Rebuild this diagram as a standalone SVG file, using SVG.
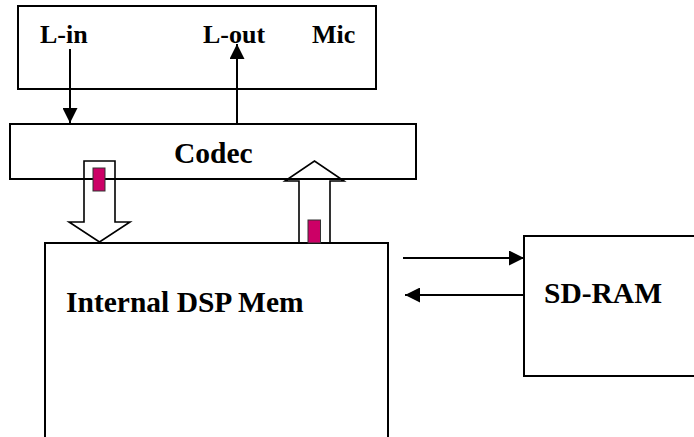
<svg xmlns="http://www.w3.org/2000/svg" width="694" height="437" viewBox="0 0 694 437">
  <defs>
    <style>
      .box { fill: none; stroke: #000; stroke-width: 2; }
      .lbl { font-family: "Liberation Serif", "Times New Roman", serif; font-weight: bold; fill: #000; }
      .big { font-size: 29.5px; }
      .small { font-size: 26px; }
      .conn { stroke: #000; stroke-width: 2; fill: none; }
      .block { fill: none; stroke: #000; stroke-width: 1.6; stroke-linejoin: miter; }
      .tag { fill: #CC0066; stroke: #333; stroke-width: 1; }
    </style>
    <marker id="ahl" viewBox="0 0 16 16" refX="16" refY="8" markerWidth="15" markerHeight="15" markerUnits="userSpaceOnUse" orient="auto">
      <path d="M0,0 L16,8 L0,16 z" fill="#000"/>
    </marker>
  </defs>

  <g id="io">
    <rect class="box" x="18" y="6" width="358" height="83"/>
    <text class="lbl small" x="40" y="43">L-in</text>
    <text class="lbl small" x="203" y="43">L-out</text>
    <text class="lbl small" x="312" y="43">Mic</text>
  </g>

  <g id="codec">
    <rect class="box" x="10" y="124" width="406" height="55"/>
    <text class="lbl big" x="174" y="162.5">Codec</text>
  </g>

  <g id="dsp">
    <path class="box" d="M45,440 L45,243 L388,243 L388,440"/>
    <text class="lbl big" x="66" y="311.5">Internal DSP Mem</text>
  </g>

  <g id="sdram">
    <path class="box" d="M700,236 L524,236 L524,376 L700,376"/>
    <text class="lbl big" x="544" y="303">SD-RAM</text>
  </g>

  <g id="connectors">
    <line class="conn" x1="70" y1="49" x2="70" y2="123" marker-end="url(#ahl)"/>
    <line class="conn" x1="237" y1="124" x2="237" y2="44" marker-end="url(#ahl)"/>
    <line class="conn" x1="403" y1="258" x2="524" y2="258" marker-end="url(#ahl)"/>
    <line class="conn" x1="524" y1="295" x2="405" y2="295" marker-end="url(#ahl)"/>

    <g id="bus-down">
      <path class="block" d="M84,161 L115,161 L115,222 L130,222 L99.5,242 L69,222 L84,222 Z"/>
      <rect class="tag" x="93" y="168" width="12" height="23"/>
    </g>
    <g id="bus-up">
      <path class="block" d="M299,243 L299,181 L285,181 L314.5,161 L344,181 L330,181 L330,243"/>
      <rect class="tag" x="308" y="220" width="12.5" height="23"/>
    </g>
  </g>
</svg>
